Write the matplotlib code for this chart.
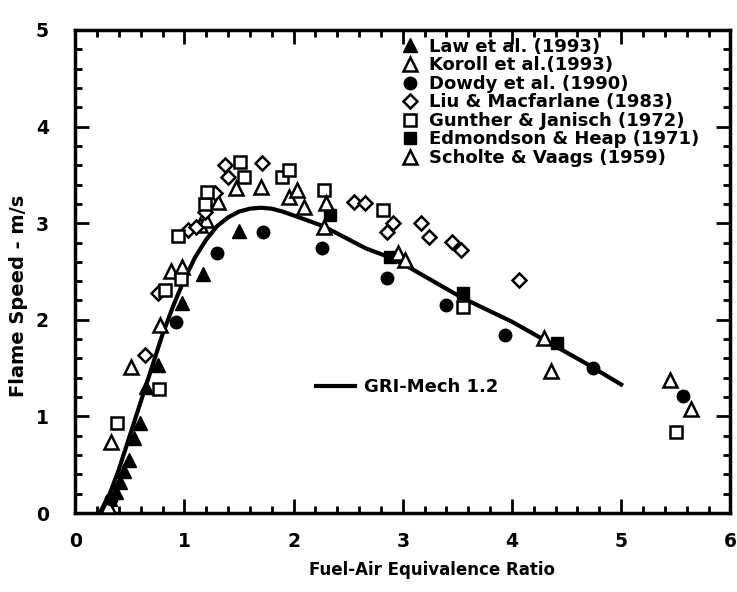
import numpy as np
import matplotlib
matplotlib.use('Agg')
import matplotlib.pyplot as plt
from matplotlib.ticker import MultipleLocator
from matplotlib.lines import Line2D

plt.rcParams['font.family'] = ['DejaVu Sans']
plt.rcParams['font.weight'] = 'bold'

# GRI-Mech 1.2 calculation
gri_phi = [0.25, 0.4, 0.5, 0.6, 0.7, 0.8, 0.9, 1.0, 1.1, 1.2, 1.3, 1.4, 1.5,
           1.6, 1.7, 1.8, 1.9, 2.0, 2.1, 2.27, 2.66, 2.87, 3.0, 3.54, 4.0,
           4.66, 5.0]
gri_su = [0.0, 0.45, 0.8, 1.15, 1.5, 1.85, 2.15, 2.42, 2.65, 2.83, 2.97, 3.06,
          3.12, 3.15, 3.16, 3.15, 3.12, 3.08, 3.04, 2.97, 2.74, 2.65, 2.58,
          2.23, 1.98, 1.56, 1.33]

# experimental data
law_phi = [0.27, 0.32, 0.37, 0.41, 0.45, 0.49, 0.54, 0.59, 0.65, 0.76, 0.98,
           1.17, 1.5]
law_su = [0.08, 0.15, 0.22, 0.32, 0.43, 0.55, 0.78, 0.93, 1.3, 1.53, 2.17,
          2.47, 2.92]

koroll_phi = [0.3, 0.33, 0.51, 0.78, 0.88, 0.98, 1.14, 1.2, 1.31, 1.47, 1.7,
              1.96, 2.03, 2.1]
koroll_su = [0.07, 0.73, 1.51, 1.95, 2.5, 2.55, 2.98, 3.03, 3.22, 3.36, 3.37,
             3.27, 3.34, 3.17]

dowdy_phi = [0.33, 0.92, 1.3, 1.72, 2.26, 2.86, 3.4, 3.94, 4.74, 5.57]
dowdy_su = [0.15, 1.98, 2.69, 2.91, 2.74, 2.43, 2.15, 1.84, 1.5, 1.21]

liu_phi = [0.64, 0.76, 1.03, 1.11, 1.19, 1.28, 1.37, 1.4, 1.71, 2.55, 2.65,
           2.86, 2.91, 3.17, 3.24, 3.45, 3.53, 4.06]
liu_su = [1.64, 2.28, 2.93, 2.96, 3.12, 3.31, 3.6, 3.48, 3.62, 3.22, 3.21,
          2.91, 3.0, 3.0, 2.86, 2.81, 2.72, 2.41]

gunther_phi = [0.38, 0.77, 0.82, 0.97, 0.94, 1.19, 1.21, 1.51, 1.55, 1.89,
               1.96, 2.28, 2.82, 3.55, 5.5]
gunther_su = [0.93, 1.28, 2.31, 2.42, 2.87, 3.2, 3.32, 3.63, 3.48, 3.48, 3.55,
              3.34, 3.14, 2.13, 0.84]

edm_phi = [2.33, 2.88, 3.55, 4.41]
edm_su = [3.08, 2.65, 2.28, 1.76]

scholte_phi = [2.3, 2.28, 2.96, 3.02, 4.29, 4.36, 5.45, 5.64]
scholte_su = [3.21, 2.96, 2.69, 2.62, 1.81, 1.47, 1.38, 1.08]

labels = ['Law et al. (1993)', 'Koroll et al.(1993)', 'Dowdy et al. (1990)',
          'Liu & Macfarlane (1983)', 'Gunther & Janisch (1972)',
          'Edmondson & Heap (1971)', 'Scholte & Vaags (1959)']

fig = plt.figure(figsize=(7.37, 5.92), dpi=100)
ax = fig.add_axes([0.102, 0.1334, 0.889, 0.816])

ax.plot(gri_phi, gri_su, color='black', lw=3, zorder=2)

mew = 1.8
s_law = ax.plot(law_phi, law_su, '^', color='black', ms=10, ls='none', zorder=3)[0]
s_kor = ax.plot(koroll_phi, koroll_su, '^', mfc='white', mec='black', mew=mew,
                ms=10, ls='none', zorder=3)[0]
s_dow = ax.plot(dowdy_phi, dowdy_su, 'o', color='black', ms=9, ls='none', zorder=3)[0]
s_liu = ax.plot(liu_phi, liu_su, 'D', mfc='white', mec='black', mew=mew, ms=7,
                ls='none', zorder=3)[0]
s_gun = ax.plot(gunther_phi, gunther_su, 's', mfc='white', mec='black', mew=mew,
                ms=8, ls='none', zorder=3)[0]
s_edm = ax.plot(edm_phi, edm_su, 's', color='black', ms=8, ls='none', zorder=3)[0]
s_sch = ax.plot(scholte_phi, scholte_su, '^', mfc='white', mec='black', mew=mew,
                ms=10, ls='none', zorder=3)[0]

ax.set_xlim(0, 6)
ax.set_ylim(0, 5)
ax.xaxis.set_major_locator(MultipleLocator(1))
ax.xaxis.set_minor_locator(MultipleLocator(0.2))
ax.yaxis.set_major_locator(MultipleLocator(1))
ax.yaxis.set_minor_locator(MultipleLocator(0.2))
ax.tick_params(which='both', direction='in', top=True, right=True, width=2)
ax.tick_params(which='major', length=10, labelsize=13.5)
ax.tick_params(axis='x', which='major', pad=14)
ax.tick_params(axis='y', which='major', pad=19)
ax.tick_params(which='minor', length=5)
for sp in ax.spines.values():
    sp.set_linewidth(2.5)

ax.set_xlabel('Fuel-Air Equivalence Ratio', fontsize=12, fontweight='bold')
ax.xaxis.set_label_coords(0.545, -0.10)
ax.set_ylabel('Flame Speed - m/s', fontsize=14, fontweight='bold')
ax.yaxis.set_label_coords(-0.072, 0.45)

leg = ax.legend([s_law, s_kor, s_dow, s_liu, s_gun, s_edm, s_sch], labels,
                loc='upper left', bbox_to_anchor=(0.48, 1.01), frameon=False,
                prop={'size': 13, 'weight': 'bold'}, handlelength=0.8,
                handletextpad=0.7, labelspacing=0.03, borderpad=0.2)
ax.add_artist(leg)

gri_handle = Line2D([], [], color='black', lw=3)
ax.legend([gri_handle], ['GRI-Mech 1.2'], loc='center left',
          bbox_to_anchor=(0.342, 0.26), frameon=False,
          prop={'size': 13, 'weight': 'bold'}, handlelength=2.2,
          handletextpad=0.5)

fig.savefig('out.png', dpi=100)
